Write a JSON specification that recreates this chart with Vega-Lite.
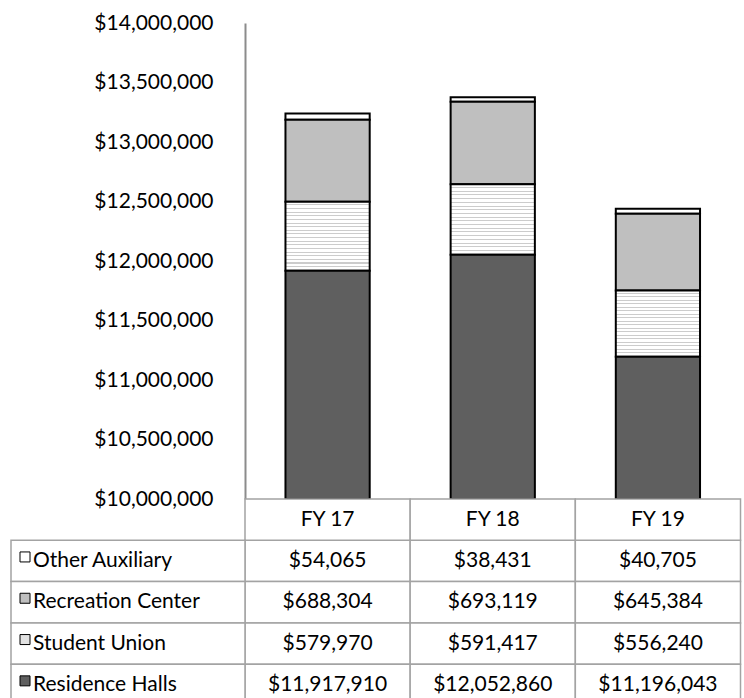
{
  "$schema": "https://vega.github.io/schema/vega-lite/v6.json",
  "width": 730,
  "height": 675,
  "autosize": "none",
  "padding": {"left": 11, "top": 23, "right": 3, "bottom": 0},
  "config": {"view": {"stroke": null}, "font": "Lato"},
  "data": {
    "values": [
      {"year": "FY 17", "series": "Other Auxiliary", "value": 54065},
      {"year": "FY 17", "series": "Recreation Center", "value": 688304},
      {"year": "FY 17", "series": "Student Union", "value": 579970},
      {"year": "FY 17", "series": "Residence Halls", "value": 11917910},
      {"year": "FY 18", "series": "Other Auxiliary", "value": 38431},
      {"year": "FY 18", "series": "Recreation Center", "value": 693119},
      {"year": "FY 18", "series": "Student Union", "value": 591417},
      {"year": "FY 18", "series": "Residence Halls", "value": 12052860},
      {"year": "FY 19", "series": "Other Auxiliary", "value": 40705},
      {"year": "FY 19", "series": "Recreation Center", "value": 645384},
      {"year": "FY 19", "series": "Student Union", "value": 556240},
      {"year": "FY 19", "series": "Residence Halls", "value": 11196043}
    ]
  },
  "transform": [
    {"calculate": "indexof(['Residence Halls','Student Union','Recreation Center','Other Auxiliary'], datum.series)", "as": "ord"}
  ],
  "resolve": {"scale": {"x": "independent", "y": "independent"}},
  "layer": [
    {
      "mark": {"type": "bar", "width": {"band": 0.51}, "stroke": "black", "strokeWidth": 2},
      "encoding": {
        "x": {"field": "year", "type": "nominal", "axis": null,
          "scale": {"domain": ["FY 17", "FY 18", "FY 19"], "range": [234, 729.5], "paddingInner": 0, "paddingOuter": 0}},
        "y": {"field": "value", "type": "quantitative", "stack": "zero",
          "scale": {"domain": [10000000, 14000000], "range": [476, 0], "clamp": true, "nice": false, "zero": false},
          "axis": {"title": null, "offset": -234, "values": [10000000, 10500000, 11000000, 11500000, 12000000, 12500000, 13000000, 13500000, 14000000],
            "format": "$,.0f", "ticks": false, "grid": false, "domainColor": "#8c8c8c", "domainWidth": 2,
            "labelFont": "Lato", "labelFontSize": 21, "labelColor": "#000000", "labelPadding": 32, "labelFlush": false, "labelOverlap": false}},
        "order": {"field": "ord", "type": "quantitative"},
        "fill": {
          "condition": {"test": "datum.series === 'Student Union'", "value": {
            "gradient": "linear", "x1": 0, "y1": 0, "x2": 0, "y2": 1,
            "stops": [
              {"offset": 0, "color": "#ffffff"}, {"offset": 0.0379, "color": "#ffffff"}, {"offset": 0.0379, "color": "#cccccc"}, {"offset": 0.0526, "color": "#cccccc"},
              {"offset": 0.0526, "color": "#ffffff"}, {"offset": 0.0905, "color": "#ffffff"}, {"offset": 0.0905, "color": "#cccccc"}, {"offset": 0.1053, "color": "#cccccc"},
              {"offset": 0.1053, "color": "#ffffff"}, {"offset": 0.1432, "color": "#ffffff"}, {"offset": 0.1432, "color": "#cccccc"}, {"offset": 0.1579, "color": "#cccccc"},
              {"offset": 0.1579, "color": "#ffffff"}, {"offset": 0.1958, "color": "#ffffff"}, {"offset": 0.1958, "color": "#cccccc"}, {"offset": 0.2105, "color": "#cccccc"},
              {"offset": 0.2105, "color": "#ffffff"}, {"offset": 0.2484, "color": "#ffffff"}, {"offset": 0.2484, "color": "#cccccc"}, {"offset": 0.2632, "color": "#cccccc"},
              {"offset": 0.2632, "color": "#ffffff"}, {"offset": 0.3011, "color": "#ffffff"}, {"offset": 0.3011, "color": "#cccccc"}, {"offset": 0.3158, "color": "#cccccc"},
              {"offset": 0.3158, "color": "#ffffff"}, {"offset": 0.3537, "color": "#ffffff"}, {"offset": 0.3537, "color": "#cccccc"}, {"offset": 0.3684, "color": "#cccccc"},
              {"offset": 0.3684, "color": "#ffffff"}, {"offset": 0.4063, "color": "#ffffff"}, {"offset": 0.4063, "color": "#cccccc"}, {"offset": 0.4211, "color": "#cccccc"},
              {"offset": 0.4211, "color": "#ffffff"}, {"offset": 0.4589, "color": "#ffffff"}, {"offset": 0.4589, "color": "#cccccc"}, {"offset": 0.4737, "color": "#cccccc"},
              {"offset": 0.4737, "color": "#ffffff"}, {"offset": 0.5116, "color": "#ffffff"}, {"offset": 0.5116, "color": "#cccccc"}, {"offset": 0.5263, "color": "#cccccc"},
              {"offset": 0.5263, "color": "#ffffff"}, {"offset": 0.5642, "color": "#ffffff"}, {"offset": 0.5642, "color": "#cccccc"}, {"offset": 0.5789, "color": "#cccccc"},
              {"offset": 0.5789, "color": "#ffffff"}, {"offset": 0.6168, "color": "#ffffff"}, {"offset": 0.6168, "color": "#cccccc"}, {"offset": 0.6316, "color": "#cccccc"},
              {"offset": 0.6316, "color": "#ffffff"}, {"offset": 0.6695, "color": "#ffffff"}, {"offset": 0.6695, "color": "#cccccc"}, {"offset": 0.6842, "color": "#cccccc"},
              {"offset": 0.6842, "color": "#ffffff"}, {"offset": 0.7221, "color": "#ffffff"}, {"offset": 0.7221, "color": "#cccccc"}, {"offset": 0.7368, "color": "#cccccc"},
              {"offset": 0.7368, "color": "#ffffff"}, {"offset": 0.7747, "color": "#ffffff"}, {"offset": 0.7747, "color": "#cccccc"}, {"offset": 0.7895, "color": "#cccccc"},
              {"offset": 0.7895, "color": "#ffffff"}, {"offset": 0.8274, "color": "#ffffff"}, {"offset": 0.8274, "color": "#cccccc"}, {"offset": 0.8421, "color": "#cccccc"},
              {"offset": 0.8421, "color": "#ffffff"}, {"offset": 0.88, "color": "#ffffff"}, {"offset": 0.88, "color": "#cccccc"}, {"offset": 0.8947, "color": "#cccccc"},
              {"offset": 0.8947, "color": "#ffffff"}, {"offset": 0.9326, "color": "#ffffff"}, {"offset": 0.9326, "color": "#cccccc"}, {"offset": 0.9474, "color": "#cccccc"},
              {"offset": 0.9474, "color": "#ffffff"}, {"offset": 0.9853, "color": "#ffffff"}, {"offset": 0.9853, "color": "#cccccc"}, {"offset": 1, "color": "#cccccc"}
            ]}},
          "field": "series", "type": "nominal", "legend": null,
          "scale": {"domain": ["Other Auxiliary", "Recreation Center", "Student Union", "Residence Halls"], "range": ["#ffffff", "#bfbfbf", "#e2e2e2", "#5f5f5f"]}
        }
      }
    },
    {
      "layer": [
        {
          "mark": {"type": "rect", "fill": "#ffffff", "stroke": "#a3a3a3", "strokeWidth": 1.5},
          "encoding": {
            "x": {"field": "year", "type": "nominal", "axis": null,
              "scale": {"domain": ["FY 17", "FY 18", "FY 19"], "range": [234, 729.5], "paddingInner": 0, "paddingOuter": 0}},
            "y": {"field": "series", "type": "nominal", "axis": null,
              "scale": {"domain": ["hdr", "Other Auxiliary", "Recreation Center", "Student Union", "Residence Halls"], "range": [476, 682.5], "paddingInner": 0, "paddingOuter": 0}}
          }
        },
        {
          "mark": {"type": "text", "font": "Lato", "fontSize": 21, "color": "#000000", "align": "center", "baseline": "middle"},
          "encoding": {
            "x": {"field": "year", "type": "nominal", "axis": null},
            "y": {"field": "series", "type": "nominal", "axis": null},
            "text": {"field": "value", "type": "quantitative", "format": "$,.0f"}
          }
        },
        {
          "transform": [{"aggregate": [{"op": "count", "as": "n"}], "groupby": ["year"]}],
          "layer": [
            {
              "mark": {"type": "rect", "fill": "#ffffff", "stroke": "#a3a3a3", "strokeWidth": 1.5},
              "encoding": {
                "x": {"field": "year", "type": "nominal", "axis": null},
                "y": {"datum": "hdr", "type": "nominal", "axis": null}
              }
            },
            {
              "mark": {"type": "text", "font": "Lato", "fontSize": 21, "color": "#000000", "align": "center", "baseline": "middle"},
              "encoding": {
                "x": {"field": "year", "type": "nominal", "axis": null},
                "y": {"datum": "hdr", "type": "nominal", "axis": null},
                "text": {"field": "year", "type": "nominal"}
              }
            }
          ]
        }
      ]
    },
    {
      "transform": [{"aggregate": [{"op": "count", "as": "n"}], "groupby": ["series"]}],
      "layer": [
        {
          "mark": {"type": "rect", "fill": "#ffffff", "stroke": "#a3a3a3", "strokeWidth": 1.5},
          "encoding": {
            "x": {"datum": "lbl", "type": "nominal", "axis": null,
              "scale": {"domain": ["lbl"], "range": [0, 234], "paddingInner": 0, "paddingOuter": 0}},
            "y": {"field": "series", "type": "nominal", "axis": null,
              "scale": {"domain": ["hdr", "Other Auxiliary", "Recreation Center", "Student Union", "Residence Halls"], "range": [476, 682.5], "paddingInner": 0, "paddingOuter": 0}}
          }
        },
        {
          "mark": {"type": "point", "shape": "square", "filled": true, "opacity": 1, "size": 100, "stroke": "#000000", "strokeWidth": 1, "xOffset": 14, "yOffset": -4},
          "encoding": {
            "x": {"datum": "lbl", "type": "nominal", "axis": null, "bandPosition": 0},
            "y": {"field": "series", "type": "nominal", "axis": null},
            "fill": {"field": "series", "type": "nominal", "legend": null}
          }
        },
        {
          "mark": {"type": "text", "font": "Lato", "fontSize": 21, "color": "#000000", "align": "left", "baseline": "middle", "dx": 22},
          "encoding": {
            "x": {"datum": "lbl", "type": "nominal", "axis": null, "bandPosition": 0},
            "y": {"field": "series", "type": "nominal", "axis": null},
            "text": {"field": "series", "type": "nominal"}
          }
        }
      ]
    }
  ]
}
